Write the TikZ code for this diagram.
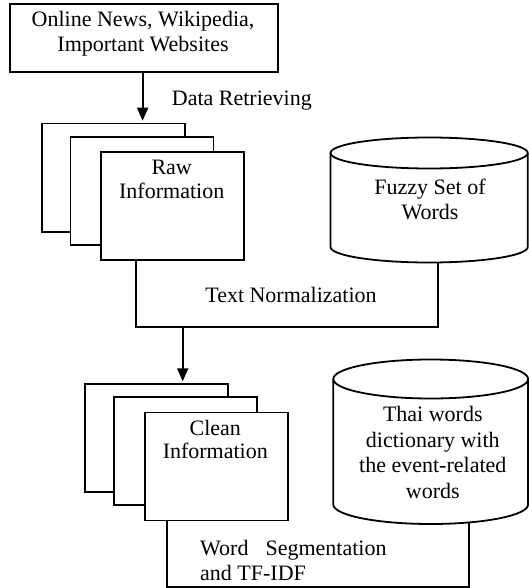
\documentclass[tikz,border=0pt]{standalone}
\usepackage{fontspec}
\setmainfont{Liberation Serif}
\usetikzlibrary{arrows.meta}
\pgfdeclarelayer{background}
\pgfsetlayers{background,main}
\begin{document}
\begin{tikzpicture}[x=1pt,y=-1pt,
  lw/.style={line width=1.8pt},
  box/.style={draw,lw,fill=white,rectangle,inner sep=0pt,anchor=north west},
  doc/.style={box,minimum width=143pt,minimum height=108pt},
  txt/.style={inner sep=0pt,align=center,font=\fontsize{22}{25}\selectfont},
  tight/.style={font=\fontsize{22}{23.5}\selectfont},
  arr/.style={draw,lw,-{Triangle[width=11pt,length=13pt]}},
  drum/.style={draw=black,lw},
  outline/.style={draw,lw,line join=miter}]
\useasboundingbox (0,0) rectangle (528,588);
\begin{pgfonlayer}{background}
  \fill[white] (0,0) rectangle (528,588);
\end{pgfonlayer}

% source box
\node[box,minimum width=268pt,minimum height=68pt] (src) at (9,3) {};
\node[txt] (srcT) at (143,33.4) {Online News, Wikipedia,\\Important Websites};

% raw information stack
\node[doc] (raw1) at (40.7,122.7) {};
\node[doc] (raw2) at (69.5,135.8) {};
\node[doc] (raw3) at (100.2,151) {};
\node[txt,tight] (rawT) at (171.7,179.5) {Raw\\Information};

% data retrieving arrow
\path[arr] ([xshift=-1.3pt]src.south) -- ([xshift=-1.3pt,yshift=2pt]src.south |- raw1.north);
\node[txt,anchor=base west] (drT) at (171.7,105.7) {Data Retrieving};

% fuzzy set cylinder
\coordinate (fzTop) at (429.1,153);
\coordinate (fzBot) at (429.1,247);
\fill[white] (330.5,153) -- (330.5,247) arc[start angle=180,end angle=0,x radius=98.6,y radius=15.5] -- (527.7,153) -- cycle;
\path[drum] (330.5,153) -- (330.5,247) arc[start angle=180,end angle=0,x radius=98.6,y radius=15.5] -- (527.7,153);
\path[drum,fill=white] (fzTop) ellipse[x radius=98.6,y radius=15.5];
\node[txt] (fzT) at (430,199.3) {Fuzzy Set of\\Words};

% text normalization process outline
\coordinate (tnBL) at (136,327);
\coordinate (tnBR) at (438,327);
\begin{pgfonlayer}{background}
  \path[outline] (raw3.south -| tnBL) -- (tnBL) -- (tnBR) -- (tnBR |- fzBot);
\end{pgfonlayer}
\node[txt,anchor=base] (tnT) at (291,302.3) {Text Normalization};

% clean information stack
\node[doc] (cl1) at (84,383.3) {};
\node[doc] (cl2) at (113.3,396) {};
\node[doc] (cl3) at (144,411.5) {};
\node[txt,tight] (clT) at (215.3,439.25) {Clean\\Information};

\coordinate (tnA) at (182.7,327);
\path[arr] (tnA) -- ([yshift=2pt]tnA |- cl1.north);

% thai dictionary cylinder
\coordinate (thTop) at (430.7,379);
\coordinate (thBot) at (430.7,504.5);
\fill[white] (333.3,379) -- (333.3,504.5) arc[start angle=180,end angle=0,x radius=97.4,y radius=19.5] -- (528.1,379) -- cycle;
\path[drum] (333.3,379) -- (333.3,504.5) arc[start angle=180,end angle=0,x radius=97.4,y radius=19.5] -- (528.1,379);
\path[drum,fill=white] (thTop) ellipse[x radius=97.4,y radius=19.5];
\node[txt,font=\fontsize{22}{25.5}\selectfont] (thT) at (432.8,452.4) {Thai words\\dictionary with\\the event-related\\words};

% word segmentation process outline
\coordinate (wsBL) at (167,586.7);
\coordinate (wsBR) at (469.3,586.7);
\begin{pgfonlayer}{background}
  \path[outline] (cl3.south -| wsBL) -- (wsBL) -- (wsBR) -- (wsBR |- thBot);
\end{pgfonlayer}
\node[txt,align=left,anchor=west] (wsT) at (200,560) {Word\hspace{17pt}Segmentation\\and TF-IDF};
\end{tikzpicture}
\end{document}
